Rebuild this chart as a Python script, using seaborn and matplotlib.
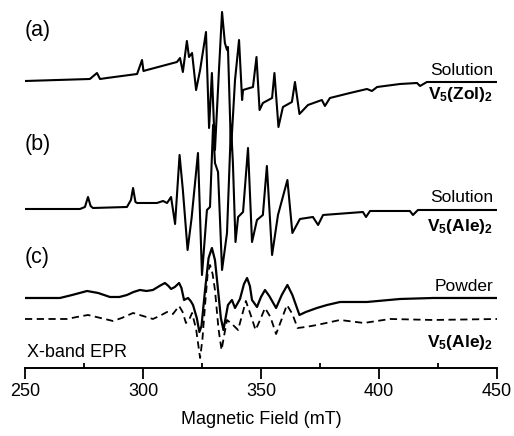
import matplotlib
matplotlib.use("Agg")
import matplotlib.pyplot as plt
import seaborn as sns
import pandas as pd
from matplotlib.ticker import MultipleLocator

# field (mT) and signal (arb. units)

# (a) V5(Zol)2 solution
field_a = [250.0, 277.5, 280.5, 281.8, 284.7, 297.5, 299.6, 300.2, 301.7, 314.4,
           315.7, 316.9, 318.6, 319.5, 320.8, 322.5, 324.2, 326.7, 328.0, 329.2,
           330.5, 332.2, 333.5, 334.7, 335.6, 336.0, 337.3, 339.0, 340.7, 342.0,
           342.4, 346.6, 348.1, 349.4, 350.8, 354.7, 355.7, 357.4, 359.3, 363.1,
           364.4, 366.3, 369.9, 375.8, 377.1, 379.2, 387.7, 394.9, 397.0, 399.2,
           408.9, 416.1, 417.4, 420.3, 450.0]
sig_a = [1, 3, 9, 3, 4, 8, 22, 11, 12, 20,
         24, 10, 41, 25, 29, -8, 12, 50, -46, 9,
         -68, 12, 70, 39, 32, 35, -68, 2, 42, -18,
         -8, -5, 25, -28, -21, -16, 9, -45, -25, -20,
         0, -32, -23, -18, -24, -16, -11, -7, -9, -5,
         -2, -1, -4, 0, 0]

# (b) V5(Ale)2 solution
field_b = [250.0, 273.3, 275.4, 276.7, 277.8, 278.8, 293.2, 294.9, 295.8, 296.8,
           297.5, 305.9, 308.5, 310.2, 311.9, 313.6, 315.5, 316.9, 318.9, 320.6,
           323.3, 325.0, 327.1, 328.4, 329.7, 330.5, 331.8, 333.5, 335.6, 337.3,
           338.1, 339.2, 340.3, 342.4, 344.5, 346.2, 348.3, 350.8, 352.5, 354.7,
           357.2, 361.2, 363.3, 366.5, 372.0, 374.2, 376.3, 393.2, 394.5, 396.2,
           413.1, 414.4, 416.5, 450.0]
sig_b = [1, 1, 3, 13, 4, 2, 3, 10, 22, 8,
         7, 7, 9, 7, 13, -14, 55, 20, -40, -8,
         57, -65, 0, 3, 85, 47, 38, -60, -23, 85,
         47, -32, -7, -2, 62, -32, -10, -5, 44, -45,
         -5, 30, -23, -9, -7, -15, -5, -2, -7, -1,
         -1, -5, 0, 0]

# (c) V5(Ale)2 powder, experiment (solid)
field_c = [250.0, 264.8, 270.0, 276.3, 281.0, 286.0, 290.0, 293.2, 296.0, 298.7,
           301.5, 304.2, 307.0, 309.3, 310.8, 311.9, 313.5, 315.3, 316.3, 317.4,
           318.2, 319.1, 320.2, 321.2, 322.8, 323.9, 324.8, 326.3, 327.8, 329.2,
           330.5, 331.8, 333.0, 334.1, 335.0, 336.0, 337.7, 339.0, 341.1, 342.8,
           344.1, 345.3, 346.2, 348.3, 350.0, 351.7, 353.5, 356.4, 358.8, 361.2,
           363.3, 366.3, 369.0, 373.7, 378.0, 383.5, 394.9, 408.9, 422.9, 450.0]
sig_c = [0, 0, 3, 7, 5, 1, 1, 3, 6, 8,
         7, 8, 12, 15, 12, 9, 11, 15, 10, -2,
         -1, 0, -3, -7, -20, -34, -28, 8, 40, 50,
         38, 8, -20, -32, -20, -7, -2, -10, -1, 14,
         20, 12, -2, -9, 1, 8, 2, -10, 3, 13,
         3, -17, -14, -10, -7, -4, -4, -1, 0, 0]

# (c) simulation (dashed)
field_sim = [250.0, 267.8, 272.0, 276.7, 282.0, 287.3, 291.0, 295.8, 300.0, 304.2,
             307.0, 310.2, 312.7, 315.3, 316.8, 318.2, 319.5, 320.8, 322.5, 324.2,
             325.2, 326.3, 327.4, 328.4, 329.5, 330.5, 332.0, 333.3, 334.5, 335.6,
             337.7, 340.3, 342.0, 343.6, 345.5, 347.7, 349.8, 351.7, 354.0, 356.4,
             358.8, 361.0, 363.3, 365.5, 369.0, 373.7, 383.5, 393.6, 404.7, 422.9,
             450.0]
sig_sim = [0, 0, 2, 4, 1, -2, 1, 6, 3, 0,
           3, 7, 5, 13, 7, -4, -1, 6, -10, -39,
           -20, 14, 45, 54, 45, 29, -10, -31, -15, -1,
           -5, -11, 4, 18, 5, -11, 0, 11, 2, -15,
           0, 14, 5, -9, -8, -6, -1, -4, 0, -1,
           0]

sns.set_style("white")
plt.rcParams['font.family'] = ['Liberation Sans', 'DejaVu Sans']
plt.rcParams['mathtext.fontset'] = 'custom'
plt.rcParams['mathtext.bf'] = 'Liberation Sans:bold'
plt.rcParams['mathtext.rm'] = 'Liberation Sans'
plt.rcParams['text.color'] = 'black'
plt.rcParams['axes.labelcolor'] = 'black'
plt.rcParams['xtick.color'] = 'black'

fig = plt.figure(figsize=(5.14, 4.36), dpi=100)
ax = fig.add_axes([0.0486, 0.156, 0.9183, 0.844])

# vertical stacking of the traces
off_a, off_b, off_c, off_sim = 286, 158, 70, 49

traces = [
    (field_a, sig_a, off_a, '-', 1.5),
    (field_b, sig_b, off_b, '-', 1.5),
    (field_c, sig_c, off_c, '-', 1.6),
    (field_sim, sig_sim, off_sim, (0, (4, 2.5)), 1.3),
]
for fx, sy, off, ls, lw in traces:
    d = pd.DataFrame({'field': fx, 'y': [v + off for v in sy]})
    sns.lineplot(data=d, x='field', y='y', ax=ax, color='black', lw=lw,
                 linestyle=ls, estimator=None, sort=False)

ax.set_xlim(250, 450)
ax.set_ylim(0, 368)
ax.set_yticks([])
ax.set_ylabel('')
ax.set_xlabel('Magnetic Field (mT)', fontsize=13, labelpad=8)
sns.despine(ax=ax, left=True, top=True, right=True)
ax.spines['bottom'].set_linewidth(1.4)
ax.spines['bottom'].set_color('black')
ax.xaxis.set_major_locator(MultipleLocator(50))
ax.xaxis.set_minor_locator(MultipleLocator(25))
ax.tick_params(axis='x', which='major', direction='out', length=8, width=1.3,
               labelsize=13, pad=3, colors='black', bottom=True)
ax.tick_params(axis='x', which='minor', direction='in', length=3.5, width=1.3,
               bottom=True)
ax.patch.set_alpha(0)

tkw = dict(fontsize=15.5, va='center', ha='left')
ax.text(250, 337, '(a)', **tkw)
ax.text(250, 223, '(b)', **tkw)
ax.text(250, 110, '(c)', **tkw)

rkw = dict(fontsize=12.5, va='center', ha='right')
ax.text(448.3, 297, 'Solution', **rkw)
ax.text(448.3, 273, r'$\mathbf{V_5(Zol)_2}$', **rkw)
ax.text(448.3, 170, 'Solution', **rkw)
ax.text(448.3, 141, r'$\mathbf{V_5(Ale)_2}$', **rkw)
ax.text(448.3, 81, 'Powder', **rkw)
ax.text(448.3, 25, r'$\mathbf{V_5(Ale)_2}$', **rkw)
ax.text(250.8, 15, 'X-band EPR', fontsize=13, va='center', ha='left')

fig.savefig('out.png', dpi=100)
